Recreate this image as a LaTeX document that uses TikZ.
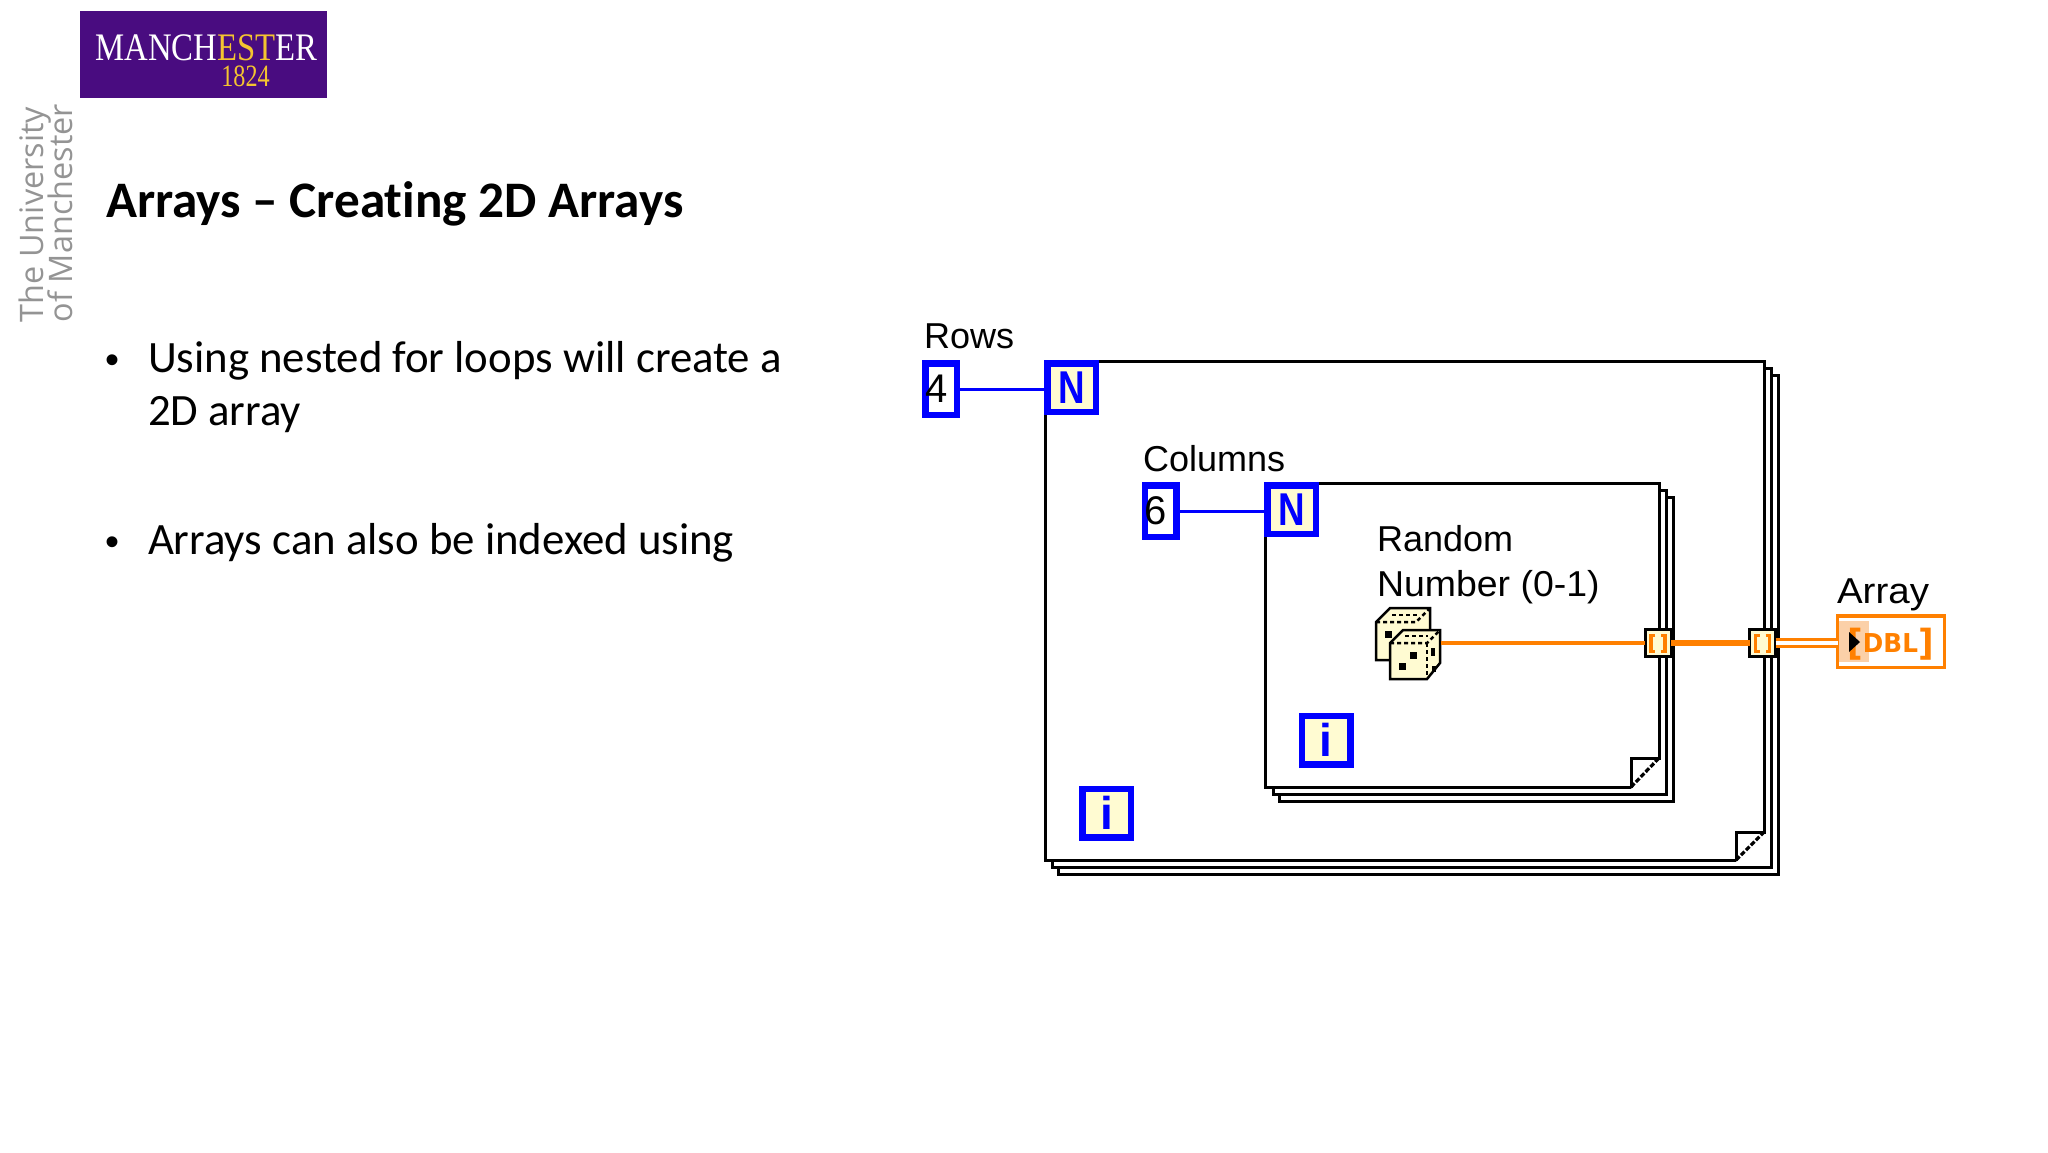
\documentclass[tikz,border=0pt]{standalone}
\usepackage{fontspec}
\setmainfont[RawFeature=-liga]{Carlito}
\newfontfamily\labfont{Liberation Sans}
\newfontfamily\serfont{Liberation Serif}
\newfontfamily\djfont{DejaVu Sans}
\newfontfamily\uofm{Open Sans}
\definecolor{wireblue}{HTML}{0000FF}
\definecolor{wireorange}{HTML}{FF8000}
\definecolor{cream}{HTML}{FFFBD2}
\definecolor{lightor}{HTML}{FBD0A8}
\definecolor{mpurple}{HTML}{490C80}
\definecolor{mgold}{HTML}{F4C430}
\newcommand{\fs}[1]{\fontsize{#1}{#1}\selectfont}
\tikzset{
  every node/.style={inner sep=0pt,outer sep=0pt},
  framebox/.style={draw=black,fill=white,line width=1.5pt,line join=miter},
  bwire/.style={draw=wireblue,line width=1.5pt},
  ctrbox/.style={draw=wireblue,fill=white,line width=3.25pt,minimum width=15.75pt,minimum height=25.75pt,
     text=black,font=\labfont\fs{20}},
  termbox/.style={draw=wireblue,fill=cream,line width=3.25pt,minimum width=24.25pt,minimum height=24.25pt,
     text=wireblue,font=\labfont\bfseries\fs{23}},
  itermbox/.style={draw=wireblue,fill=cream,line width=3.25pt,minimum width=24.25pt,minimum height=24.25pt,
     text=wireblue,font=\labfont\bfseries\fs{23}},
  lab/.style={anchor=base west,font=\labfont\fs{18}},
  tunnel/.style={draw=black,fill=cream,line width=1.5pt,minimum width=13pt,minimum height=13.5pt},
  bracket/.style={draw=wireorange,line width=1.9pt},
  diceedge/.style={draw=black,fill=cream,line width=1.25pt,line join=miter},
  dashedge/.style={draw=black,line width=1.25pt,dash pattern=on 2pt off 1.5pt},
  foldedge/.style={draw=black,line width=1.6pt,dash pattern=on 2.5pt off 1pt},
  bodytxt/.style={anchor=base west,font=\fs{22.4}},
  bulletdot/.style={anchor=base,font=\labfont\fs{20}},
}
\begin{document}
\begin{tikzpicture}[x=0.5pt,y=-0.5pt]
\useasboundingbox (0,0) rectangle (2048,1152);
% logo
\node[fill=mpurple,minimum width=123.5pt,minimum height=43.5pt] (logo) at (203.5,54.5) {};
\node[anchor=base,text=white,font=\serfont\fs{19.5}] (logotxt) at (206.5,60) {\scalebox{0.84}[1]{MANCH\textcolor{mgold}{EST}ER}};
\node[anchor=base,text=mgold,font=\serfont\fs{15.5}] (logoyr) at (245.5,86) {\scalebox{0.78}[1]{1824}};
\node[anchor=base west,rotate=90,text=black!42,font=\uofm\fs{16.2}] (uni1) at (43,322) {The University};
\node[anchor=base west,rotate=90,text=black!42,font=\uofm\fs{16.2}] (uni2) at (72,322) {of Manchester};
% texts
\node[anchor=base west,font=\bfseries\fs{25.6}] (title) at (106,217) {Arrays – Creating 2D Arrays};
\node[bulletdot] (b1) at (112,373) {•};
\node[bodytxt] (t1a) at (148,372) {Using nested for loops will create a};
\node[bodytxt] (t1b) at (148,425.5) {2D array};
\node[bulletdot] (b2) at (112,555) {•};
\node[bodytxt] (t2) at (148,554) {Arrays can also be indexed using};
% outer loop
\draw[framebox] (1058,375) rectangle (1778,874);
\draw[framebox] (1052,368) rectangle (1771,867);
\fill[white] (1045,361) -- (1764,361) -- (1764,832) -- (1736,860) -- (1045,860) -- cycle;
\draw[draw=black,line width=1.5pt,line join=miter] (1736,861) -- (1736,860) -- (1045,860) -- (1045,361) -- (1764,361) -- (1764,832) -- (1736,832) -- (1736,861);
\draw[foldedge] (1736,860) -- (1764,832);
% inner loop
\draw[framebox] (1279,497) rectangle (1673,801);
\draw[framebox] (1273,490) rectangle (1666,794);
\fill[white] (1265,483) -- (1659,483) -- (1659,758) -- (1631,787) -- (1265,787) -- cycle;
\draw[draw=black,line width=1.5pt,line join=miter] (1631,788) -- (1631,787) -- (1265,787) -- (1265,483) -- (1659,483) -- (1659,758) -- (1631,758) -- (1631,788);
\draw[foldedge] (1631,787) -- (1659,758);
% terminals
\node[ctrbox] (rows) at (941,389) {\hspace*{-4.5pt}4};
\node[termbox] (n1) at (1071.5,387.5) {\scalebox{0.8}[1]{N}};
\node[ctrbox] (cols) at (1160.5,511) {\hspace*{-4.5pt}6};
\node[termbox] (n2) at (1291.5,509.5) {\scalebox{0.8}[1]{N}};
\node[itermbox] (i1) at (1106.5,813) {i};
\node[itermbox] (i2) at (1326,740) {i};
\draw[bwire] (rows.east) -- (rows.east -| n1.west);
\draw[bwire] (cols.east) -- (cols.east -| n2.west);
% labels
\node[lab] (lrows) at (924,348) {Rows};
\node[lab] (lcols) at (1143,471) {Columns};
\node[lab] (lrand1) at (1377,551) {Random};
\node[lab] (lrand2) at (1377,596) {\scalebox{1.04}[1]{Number (0-1)}};
\node[lab] (larr) at (1837,603) {\scalebox{1.07}[1]{Array}};
% dice
\node[minimum width=33pt,minimum height=36.5pt] (dice) at (1408,643.5) {};
\draw[diceedge] (1376,622) -- (1390,608) -- (1430,608) -- (1430,640) -- (1390,660) -- (1376,660) -- cycle;
\draw[dashedge] (1376,622) -- (1416,622) -- (1430,608);
\draw[dashedge] (1392,615) -- (1418,615);
\draw[diceedge] (1390,643) -- (1403,630) -- (1440,630) -- (1440,663) -- (1427,679) -- (1390,679) -- cycle;
\draw[dashedge] (1390,643) -- (1427,643) -- (1440,630);
\draw[dashedge] (1405,636) -- (1428,636);
\draw[dashedge] (1427,643) -- (1427,679);
\fill[black] (1385,631) rectangle (1392,638);
\fill[black] (1410,652) rectangle (1417,659);
\fill[black] (1399,663) rectangle (1406,670);
\fill[black] (1431,648) rectangle (1435,656);
\fill[black] (1432,666) rectangle (1436,672);
% tunnels
\node[tunnel] (t1) at (1658,643) {};
\node[tunnel] (t2n) at (1762.5,643) {};
\draw[bracket] (1655,635.5) -- (1651,635.5) -- (1651,651.5) -- (1655,651.5);
\draw[bracket] (1661,635.5) -- (1665,635.5) -- (1665,651.5) -- (1661,651.5);
\draw[bracket] (1759.5,635.5) -- (1755.5,635.5) -- (1755.5,651.5) -- (1759.5,651.5);
\draw[bracket] (1765.5,635.5) -- (1769.5,635.5) -- (1769.5,651.5) -- (1765.5,651.5);
% array indicator
\node[draw=wireorange,fill=white,line width=1.75pt,minimum width=53.5pt,minimum height=25.75pt] (arr) at (1891,641.5) {};
\fill[lightor] (1839,621) rectangle (1869,662);
\node[anchor=base,text=wireorange,font=\djfont\bfseries\fs{13}] (dbl) at (1890.5,652) {\scalebox{0.95}[1]{{\fs{18}\raisebox{-1.5pt}{[}}DBL{\fs{18}\raisebox{-1.5pt}{]}}}};
\fill[black] (1849,632) -- (1860,642) -- (1849,652) -- cycle;
% wires
\draw[draw=wireorange,line width=1.75pt] (dice.east |- t1.west) -- (t1.west);
\draw[draw=wireorange,line width=3pt] (t1.east) -- (t2n.west);
\draw[draw=wireorange,line width=1.5pt,double=white,double distance=2pt] (t2n.east) -- (t2n.east -| arr.west);
\end{tikzpicture}
\end{document}
